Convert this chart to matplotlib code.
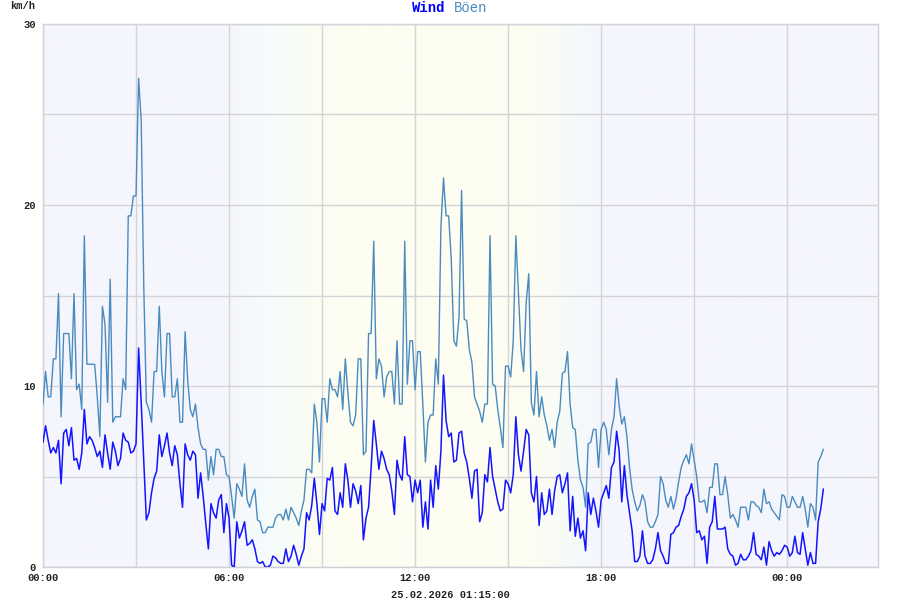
import numpy as np
import matplotlib
matplotlib.use("Agg")
import matplotlib.pyplot as plt
from matplotlib.colors import to_rgb

# 5-minute readings, km/h, starting 00:00
gust = [
    9.0, 10.8, 9.4, 9.4, 11.5, 11.5, 15.1, 8.3, 12.9, 12.9, 12.9, 10.4,
    15.1, 9.8, 10.1, 8.7, 18.3, 11.2, 11.2, 11.2, 11.2, 9.4, 7.2, 14.4,
    13.4, 9.1, 15.9, 8.0, 8.3, 8.3, 8.3, 10.4, 9.8, 19.4, 19.4, 20.5,
    20.5, 27.0, 24.7, 15.5, 9.1, 8.7, 8.0, 10.8, 10.8, 14.4, 10.8, 9.4,
    12.9, 12.9, 9.4,
    9.4, 10.4, 8.0, 8.0, 13.0, 10.3, 8.7, 8.3, 9.0, 7.7, 6.8, 6.5,
    6.5, 4.8, 6.1, 5.1, 6.5, 6.5, 6.1, 6.1, 5.1, 5.0, 3.9, 2.7,
    4.6, 4.3, 3.9, 5.7, 3.7, 3.3, 3.9, 4.3, 2.6, 2.5, 1.9, 1.9,
    2.2, 2.2, 2.2, 2.7, 2.9, 2.9, 2.6, 3.2, 2.6, 3.3, 3.0, 2.7,
    2.3, 3.1, 3.7,
    5.4, 5.4, 5.2, 9.0, 8.0, 5.8, 9.3, 9.3, 8.0, 10.4, 9.8, 9.8,
    9.4, 10.8, 8.7, 11.5, 9.6, 8.0, 7.8, 8.4, 11.5, 11.5, 6.2, 6.4,
    12.9, 12.9, 18.0, 10.4, 11.5, 11.1, 9.4, 10.5, 10.8, 10.8, 9.0, 12.5,
    9.0, 9.0, 18.0, 10.1, 12.5, 12.5, 9.8, 11.9, 11.9, 9.0, 5.8, 8.0,
    8.4, 8.4,
    11.5, 10.1, 18.8, 21.5, 19.4, 19.4, 17.0, 12.5, 12.2, 13.8, 20.8, 13.7,
    13.6, 12.0, 11.3, 9.4, 9.0, 8.6, 8.0, 9.0, 9.0, 18.3, 10.1, 10.0,
    8.7, 7.7, 6.6, 11.1, 11.1, 10.5, 12.5, 18.3, 15.1, 12.0, 10.8, 14.6,
    16.2, 9.1, 8.4, 10.8, 8.3, 9.4, 8.4, 7.8, 7.0, 7.6, 6.6, 8.0,
    8.6, 10.7, 10.8,
    11.9, 9.0, 7.7, 7.6, 5.9, 4.8, 4.4, 3.3, 6.8, 6.9, 7.6, 7.6,
    5.5, 7.6, 8.0, 7.6, 6.2, 7.6, 8.3, 10.4, 8.9, 7.9, 8.3, 7.2,
    5.5, 4.3, 3.6, 3.1, 3.4, 4.0, 3.6, 2.5, 2.2, 2.2, 2.5, 2.9,
    5.0, 4.6, 3.7, 3.3, 3.9, 3.2, 3.8, 4.7, 5.5, 5.9, 6.2, 5.7,
    6.8, 5.9, 5.0, 3.6, 3.6,
    3.7, 3.0, 4.4, 4.4, 5.7, 5.7, 4.0, 4.0, 5.0, 4.0, 2.7, 2.9,
    2.6, 2.2, 3.3, 3.3, 3.3, 2.6, 3.6, 3.6, 3.4, 3.3, 3.0, 4.3,
    3.5, 3.6, 3.2, 3.0, 2.8, 2.6, 4.0, 3.9, 3.3, 3.3, 3.9, 3.6,
    3.3, 3.3, 3.9, 3.2, 2.2, 3.5, 3.3, 2.6, 5.8, 6.1, 6.5,
]

wind = [
    6.9, 7.8, 7.0, 6.3, 6.6, 6.3, 7.0, 4.6, 7.4, 7.6, 6.7, 7.7,
    5.9, 6.0, 5.4, 6.3, 8.7, 6.8, 7.2, 7.0, 6.6, 6.1, 6.4, 5.5,
    7.3, 6.3, 5.4, 6.9, 6.4, 5.6, 6.0, 7.4, 7.0, 6.9, 6.3, 6.4,
    6.8, 12.1, 9.1, 5.9, 2.6, 3.0, 4.1, 4.9, 5.3, 7.3, 6.1, 6.7,
    7.4, 6.3, 5.6,
    6.7, 6.2, 4.6, 3.3, 6.8, 6.2, 5.9, 6.4, 6.2, 3.8, 5.2, 3.9,
    2.4, 1.0, 3.5, 3.0, 2.7, 3.7, 4.0, 1.9, 3.5, 2.7, 0.1, 0.0,
    2.5, 1.6, 2.0, 2.5, 1.2, 1.3, 1.5, 1.0, 0.3, 0.2, 0.3, 0.0,
    0.0, 0.1, 0.6, 0.5, 0.3, 0.2, 0.2, 1.0, 0.3, 0.6, 1.2, 0.7,
    0.1, 0.6, 1.0,
    3.0, 2.6, 3.4, 4.9, 3.5, 1.8, 3.5, 3.1, 4.9, 4.8, 5.5, 3.1,
    2.9, 4.1, 3.3, 5.7, 4.8, 3.3, 4.6, 4.2, 3.5, 4.5, 1.5, 2.7,
    3.3, 5.5, 8.1, 6.8, 5.4, 6.4, 6.0, 5.4, 5.1, 4.2, 2.9, 5.9,
    5.1, 4.8, 7.2, 5.1, 5.0, 3.6, 4.8, 4.1, 4.8, 2.2, 3.6, 2.1,
    4.8, 3.3,
    5.6, 4.3, 6.4, 10.6, 8.1, 7.2, 7.4, 5.8, 5.9, 7.4, 7.5, 6.3,
    5.8, 4.9, 3.8, 5.3, 5.4, 2.5, 3.0, 5.1, 4.7, 6.6, 5.0, 4.3,
    3.6, 3.1, 3.2, 4.8, 4.6, 4.1, 5.1, 8.3, 6.2, 5.3, 6.4, 7.6,
    7.3, 4.1, 3.6, 5.0, 2.3, 4.1, 2.9, 3.1, 4.3, 2.9, 4.2, 5.0,
    5.1, 4.1, 4.6,
    5.2, 2.0, 3.9, 1.7, 2.7, 1.6, 2.0, 0.9, 4.1, 2.9, 3.8, 3.1,
    2.2, 3.7, 4.1, 4.5, 3.8, 5.5, 5.8, 7.5, 6.4, 3.6, 5.6, 4.0,
    3.0, 2.0, 0.3, 0.3, 0.6, 2.0, 0.6, 0.2, 0.2, 0.4, 1.0, 1.9,
    0.9, 0.6, 0.2, 0.2, 1.8, 1.9, 2.2, 2.3, 2.8, 3.2, 3.9, 4.1,
    4.6, 3.7, 1.9, 2.0, 1.5,
    1.7, 0.2, 2.2, 2.5, 3.9, 2.1, 2.1, 2.1, 2.2, 1.0, 0.7, 0.6,
    0.1, 0.2, 0.7, 0.4, 0.4, 0.6, 0.9, 1.9, 0.7, 0.6, 0.4, 1.1,
    0.1, 1.4, 0.9, 0.6, 0.8, 0.7, 0.9, 1.2, 1.1, 0.6, 0.8, 1.7,
    0.8, 0.7, 1.9, 1.0, 0.1, 0.8, 0.2, 0.2, 2.5, 3.2, 4.3,
]

hours = np.arange(len(gust)) * 5 / 60
xticks = [0, 6, 12, 18, 24]
xticklabels = ["00:00", "06:00", "12:00", "18:00", "00:00"]
yticks = [0, 10, 20, 30]
stamp = "25.02.2026 01:15:00"

mono = "Liberation Mono"
x_end = 26.93

fig = plt.figure(figsize=(9, 6), dpi=100, facecolor="white")
ax = fig.add_axes([43/900, 1-567/600, (878-43)/900, (567-24)/600])

# day/night background
lav = "#f5f6fd"
stops = [(0, lav), (6.0, lav), (7.2, "#f5fcfc"), (8.6, "#fbfdf4"), (9.6, "#fdfdf2"),
         (15.6, "#fdfdf2"), (16.6, "#f8fcf6"), (17.5, "#f4f8fb"), (18.0, lav), (x_end, lav)]
xs = np.linspace(0, x_end, 600)
sx = [s[0] for s in stops]
cols = np.array([to_rgb(s[1]) for s in stops])
grad = np.stack([np.interp(xs, sx, cols[:, k]) for k in range(3)], axis=-1)[None, :, :]
ax.imshow(grad, extent=[0, x_end, 0, 30], aspect="auto", zorder=0, interpolation="bilinear")

ax.plot(hours, gust, color="#4a8bbf", lw=1.0, zorder=3)
ax.plot(hours, wind, color="#1414ff", lw=1.1, zorder=4)

ax.set_xlim(0, x_end)
ax.set_ylim(0, 30)
ax.set_xticks(np.arange(0, 27, 3), minor=True)
ax.set_yticks(np.arange(0, 31, 5), minor=True)
ax.set_xticks(xticks)
ax.set_xticklabels(xticklabels)
ax.set_yticks(yticks)
ax.set_yticklabels([str(v) for v in yticks])
ax.grid(which="both", color="#d4d4d8", lw=1.0, zorder=1)
ax.set_axisbelow(False)
for sp in ax.spines.values():
    sp.set_color("#cfcfd4")
    sp.set_linewidth(1.0)
ax.tick_params(which="both", length=0)
ax.tick_params(axis="x", pad=4, labelsize=7.5)
ax.tick_params(axis="y", pad=5, labelsize=7.5)
for lab in ax.get_xticklabels() + ax.get_yticklabels():
    lab.set_fontfamily(mono)
    lab.set_fontweight("bold")
    lab.set_color("#222222")

fig.text(10/900, 1-6/600, "km/h", fontfamily=mono, fontweight="bold", fontsize=7.5,
         color="#222222", ha="left", va="center")
fig.text(412/900, 1-8/600, "Wind", fontfamily=mono, fontweight="bold", fontsize=10,
         color="#0000ff", ha="left", va="center")
fig.text(454/900, 1-8/600, "Böen", fontfamily=mono, fontsize=10,
         color="#4a8bbf", ha="left", va="center")
fig.text(450/900, 1-595/600, stamp, fontfamily=mono, fontweight="bold", fontsize=7.5,
         color="#222222", ha="center", va="center")

fig.savefig("out.png", dpi=100, facecolor="white")
